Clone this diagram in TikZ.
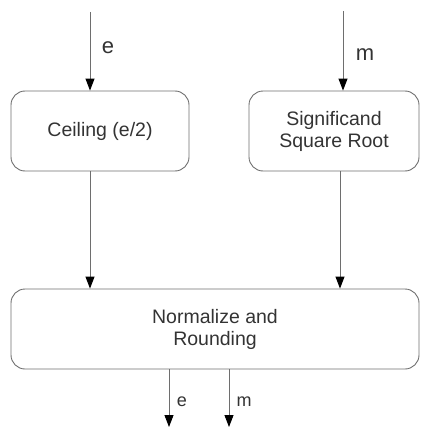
\documentclass[tikz,border=0pt]{standalone}
\usepackage{fontspec}
\setmainfont{Liberation Sans}
\usetikzlibrary{arrows.meta}
\definecolor{linegray}{HTML}{6E6E6E}
\definecolor{textgray}{HTML}{333333}
\begin{document}
\begin{tikzpicture}[x=1pt,y=-1pt,
  block/.style={draw=linegray, line width=0.9pt, rounded corners=14pt, align=center,
    text=textgray, font=\fontsize{19.5}{22}\selectfont, inner sep=0pt},
  flow/.style={draw=linegray, line width=0.9pt,
    -{Triangle[width=9pt,length=12pt,color=black]}},
  sig/.style={text=textgray, inner sep=0pt}]
\useasboundingbox (0,0) rectangle (420,428);

% processing blocks
\node[block, minimum width=178pt, minimum height=80pt] (ceil) at (100,131) {Ceiling (e/2)};
\node[block, minimum width=170pt, minimum height=80pt] (sqrt) at (334,131) {Significand\\Square Root};
\node[block, minimum width=408pt, minimum height=80pt] (norm) at (215,329) {Normalize and\\ Rounding};

% free ends of the input and output lines
\coordinate (ein) at (90,12);
\coordinate (min) at (343,11);
\coordinate (eout) at (169,427);
\coordinate (mout) at (229,427);

% inputs
\draw[flow] (ein) -- (ceil.north -| ein);
\draw[flow] (min) -- (sqrt.north -| min);
\node[sig, font=\fontsize{22}{24}\selectfont] (elab) at (108,48) {e};
\node[sig, font=\fontsize{22}{24}\selectfont] (mlab) at (365,55) {m};

% internal paths
\draw[flow] (ceil.south -| ein) -- (norm.north -| ein);
\draw[flow] (sqrt.south -| 340,0) -- (norm.north -| 340,0);

% outputs
\draw[flow] (norm.south -| eout) -- (eout);
\draw[flow] (norm.south -| mout) -- (mout);
\node[sig, font=\fontsize{18}{20}\selectfont] (eolab) at (182,402) {e};
\node[sig, font=\fontsize{18}{20}\selectfont] (molab) at (244,402) {m};
\end{tikzpicture}
\end{document}
